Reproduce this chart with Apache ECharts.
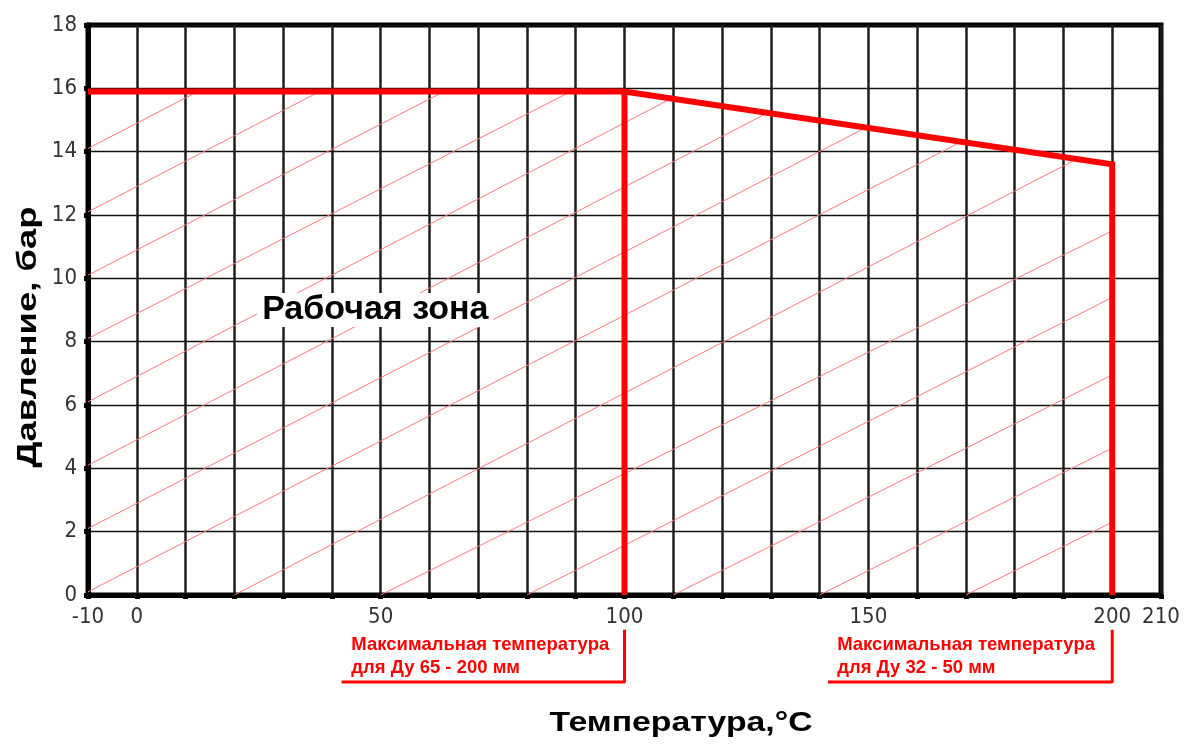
<!DOCTYPE html>
<html><head><meta charset="utf-8">
<script src="https://cdn.jsdelivr.net/npm/echarts@6/dist/echarts.min.js"></script>
<style>html,body{margin:0;padding:0;background:#fff}#c{width:1185px;height:751px}</style>
</head><body><div id="c"></div>
<script>
// ---- data ----
const curveX = [-10, 100, 200, 200];          // limit curve, °C
const curveY = [15.9, 15.9, 13.6, 0];         // bar
const limit100X = [100, 100];
const limit100Y = [15.9, 0];
const xTickLabels = [-10, 0, 50, 100, 150, 200, 210];
const yTickLabels = [0, 2, 4, 6, 8, 10, 12, 14, 16, 18];
// hatch lines (start / end points)
const hatchStartX = [-10, -10, -10, -10, -10, -10, -10, -10, 20, 50, 80, 110, 140, 170];
const hatchStartY = [0.1, 2.1, 4.1, 6.1, 8.1, 10.1, 12.1, 14.1, 0, 0, 0, 0, 0, 0];
const hatchEndX   = [169.5, 150, 130, 110.5, 89, 63, 37.5, 12.5, 192.5, 200, 200, 200, 200, 200];
const hatchEndY   = [14.35, 14.8, 15.28, 15.75, 15.9, 15.9, 15.9, 15.9, 13.75, 11.5, 9.4, 6.95, 4.64, 2.3];
// annotation brackets below the axis
const bracket1X = [100, 100, 42];
const bracket1Y = [-1.1, -2.75, -2.75];
const bracket2X = [200, 200, 141.7];
const bracket2Y = [-1.1, -2.75, -2.75];
const zoneText = 'Рабочая зона';
const noteTexts = ['Максимальная температура\nдля Ду 65 - 200 мм', 'Максимальная температура\nдля Ду 32 - 50 мм'];
const xTitle = 'Температура,°C';
const yTitle = 'Давление, бар';

// ---- anchors (data units) ----
const zoneAnchor = [48.9, 9.0];
const noteAnchors = [[44, -1.94], [143.6, -1.94]];

const RED = '#ff0000';
const tickFont = "'Liberation Sans Narrow','Arial Narrow','DejaVu Sans Condensed',sans-serif";
const boldFont = "'Liberation Sans',Arial,Helvetica,sans-serif";

const zip = (xs, ys) => xs.map((x, i) => [x, ys[i]]);

const chart = echarts.init(document.getElementById('c'), null, {renderer: 'canvas'});
chart.setOption({
  animation: false,
  backgroundColor: '#fff',
  grid: {left: 88, right: 24, top: 25, bottom: 156, show: true, borderColor: '#000', borderWidth: 5, containLabel: false},
  xAxis: {
    type: 'value', min: -10, max: 210, interval: 10,
    axisLine: {show: true, onZero: false, lineStyle: {color: '#000', width: 5}},
    axisTick: {show: true, length: 4, lineStyle: {color: '#000', width: 5}},
    axisLabel: {
      margin: 11, color: '#333', fontFamily: tickFont, fontSize: 22,
      formatter: v => xTickLabels.indexOf(v) >= 0 ? String(v) : ''
    },
    splitLine: {show: true, lineStyle: {color: '#1e1e1e', width: 2.5}}
  },
  yAxis: {
    type: 'value', min: 0, max: 18, interval: 2,
    axisLine: {show: true, onZero: false, lineStyle: {color: '#000', width: 5}},
    axisTick: {show: true, length: 4, lineStyle: {color: '#000', width: 5}},
    axisLabel: {
      margin: 11, color: '#333', fontFamily: tickFont, fontSize: 22,
      formatter: v => yTickLabels.indexOf(v) >= 0 ? String(v) : ''
    },
    splitLine: {show: true, lineStyle: {color: '#111', width: 1.3}}
  },
  graphic: [
    {type: 'text', x: 681, y: 724, scaleX: 1.25, z: 10,
     style: {text: xTitle, font: 'bold 27px ' + boldFont, fill: '#000', align: 'center', verticalAlign: 'middle'}},
    {type: 'text', x: 28, y: 337, rotation: Math.PI / 2, scaleX: 1.3, z: 10,
     style: {text: yTitle, font: 'bold 28px ' + boldFont, fill: '#000', align: 'center', verticalAlign: 'middle'}}
  ],
  series: [
    {
      type: 'lines', coordinateSystem: 'cartesian2d', silent: true, z: 1,
      lineStyle: {color: '#ff7a7a', width: 1, opacity: 1},
      data: hatchStartX.map((x, i) => ({coords: [[x, hatchStartY[i]], [hatchEndX[i], hatchEndY[i]]]}))
    },
    {
      type: 'line', data: zip(curveX, curveY), symbol: 'none', z: 5,
      lineStyle: {color: RED, width: 6, join: 'miter'}
    },
    {
      type: 'line', data: zip(limit100X, limit100Y), symbol: 'none', z: 5,
      lineStyle: {color: RED, width: 6}
    },
    {
      type: 'line', data: zip(bracket1X, bracket1Y), symbol: 'none', clip: false, z: 5,
      lineStyle: {color: RED, width: 3}
    },
    {
      type: 'line', data: zip(bracket2X, bracket2Y), symbol: 'none', clip: false, z: 5,
      lineStyle: {color: RED, width: 3}
    },
    {
      type: 'scatter', clip: false, symbolSize: 0, z: 6, silent: true,
      itemStyle: {opacity: 1},
      data: [zoneAnchor],
      label: {show: true, position: 'inside', formatter: zoneText, color: '#000',
        textBorderWidth: 0, fontFamily: boldFont, fontWeight: 'bold', fontSize: 34,
        backgroundColor: '#fff', padding: [0, 5]}
    },
    {
      type: 'scatter', clip: false, symbolSize: 0, z: 6, silent: true,
      itemStyle: {opacity: 1},
      data: noteAnchors.map((p, i) => ({value: p, name: noteTexts[i]})),
      label: {show: true, position: 'right', distance: 0, align: 'left', verticalAlign: 'middle',
        formatter: p => p.name, color: RED, textBorderWidth: 0, fontFamily: boldFont, fontWeight: 'bold',
        fontSize: 18.5, lineHeight: 23}
    }
  ]
});
</script></body></html>
